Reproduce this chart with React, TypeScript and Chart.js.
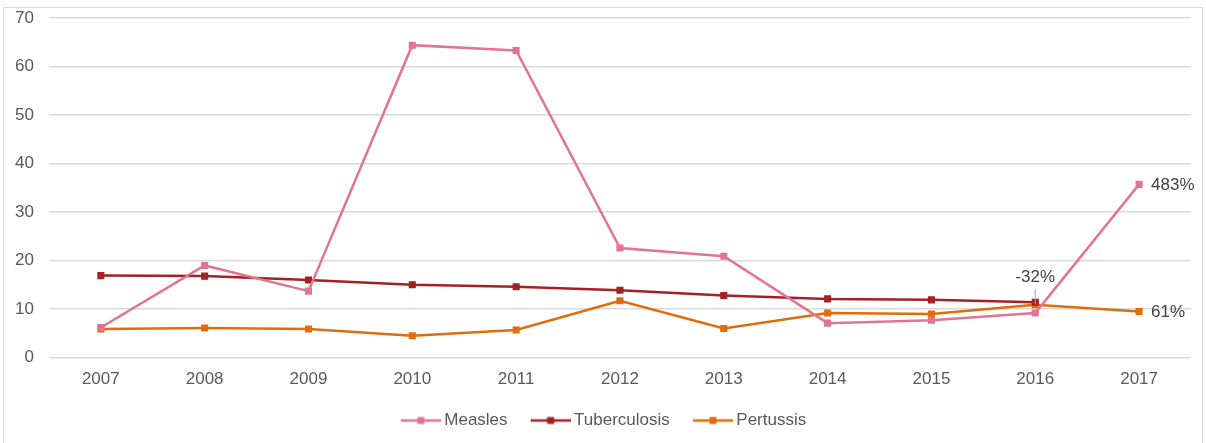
import React, { useEffect, useRef } from "react";
import { Chart, registerables } from "chart.js";

Chart.register(...registerables);

const years = ["2007", "2008", "2009", "2010", "2011", "2012", "2013", "2014", "2015", "2016", "2017"];
const measles = [6.2, 19.0, 13.7, 64.4, 63.3, 22.6, 20.9, 7.1, 7.7, 9.2, 35.7];
const tuberculosis = [16.9, 16.8, 16.0, 15.0, 14.6, 13.9, 12.8, 12.1, 11.9, 11.4, null];
const pertussis = [5.9, 6.1, 5.9, 4.5, 5.7, 11.7, 6.0, 9.2, 9.0, 10.9, 9.5];
const seriesNames = ["Measles", "Tuberculosis", "Pertussis"];
const seriesColors = ["#E17591", "#A51F25", "#E36C0A"];
const annotations = [
  { dataset: 0, index: 10, text: "483%", pos: "right" },
  { dataset: 1, index: 9, text: "-32%", pos: "above" },
  { dataset: 2, index: 10, text: "61%", pos: "right" },
];

const FONT = "'Liberation Sans', Arial, sans-serif";

function legendMarker(color: string): HTMLCanvasElement {
  const c = document.createElement("canvas");
  c.width = 46;
  c.height = 10;
  const ctx = c.getContext("2d")!;
  ctx.strokeStyle = color;
  ctx.lineWidth = 2.5;
  ctx.beginPath();
  ctx.moveTo(6, 5);
  ctx.lineTo(46, 5);
  ctx.stroke();
  ctx.fillStyle = color;
  ctx.fillRect(22.5, 1.5, 7, 7);
  return c;
}

const labelPlugin = {
  id: "pctLabels",
  afterDatasetsDraw(chart: any) {
    const ctx = chart.ctx;
    const xs = chart.scales.x;
    const ys = chart.scales.y;
    ctx.save();
    ctx.font = `17px ${FONT}`;
    ctx.fillStyle = "#404040";
    ctx.textBaseline = "middle";
    annotations.forEach((a) => {
      const v = (chart.data.datasets[a.dataset].data as any[])[a.index];
      const px = xs.getPixelForValue(a.index);
      const py = ys.getPixelForValue(v);
      if (a.pos === "right") {
        ctx.textAlign = "left";
        ctx.fillText(a.text, px + 12, py + 1);
      } else {
        ctx.strokeStyle = "#A6A6A6";
        ctx.lineWidth = 1;
        ctx.beginPath();
        ctx.moveTo(px, py - 13);
        ctx.lineTo(px, py + 2);
        ctx.stroke();
        ctx.textAlign = "center";
        ctx.fillText(a.text, px, py - 25);
      }
    });
    ctx.restore();
  },
};

export default function App() {
  const ref = useRef<HTMLCanvasElement>(null);
  useEffect(() => {
    const data = [measles, tuberculosis, pertussis];
    const chart = new Chart(ref.current!, {
      type: "line",
      data: {
        labels: years,
        datasets: seriesNames.map((name, i) => ({
          label: name,
          data: data[i],
          borderColor: seriesColors[i],
          backgroundColor: seriesColors[i],
          borderWidth: 2.5,
          pointStyle: "rect",
          pointRadius: 5,
          pointBorderWidth: 0,
          tension: 0,
          fill: false,
        })),
      },
      options: {
        responsive: false,
        animation: false,
        layout: { padding: { left: 0, right: 0, top: 18, bottom: 4 } },
        scales: {
          x: {
            offset: true,
            grid: { display: false, drawTicks: false },
            border: { display: false },
            ticks: { color: "#595959", font: { family: FONT, size: 17 }, padding: 12 },
            afterFit: (s: any) => {
              s.height -= 12;
            },
          },
          y: {
            min: 0,
            max: 70,
            grid: { color: "#D9D9D9", lineWidth: 1.5, drawTicks: false },
            border: { display: false },
            ticks: { stepSize: 10, color: "#595959", font: { family: FONT, size: 17 }, padding: 15 },
            afterFit: (s: any) => {
              s.paddingTop = 0;
            },
          },
          yRight: {
            position: "right",
            min: 0,
            max: 70,
            grid: { display: false, drawTicks: false },
            border: { display: false },
            ticks: { display: false },
            afterFit: (s: any) => {
              s.width = 15;
              s.paddingTop = 0;
            },
          },
        },
        plugins: {
          tooltip: { enabled: false },
          legend: {
            position: "bottom",
            labels: {
              usePointStyle: true,
              pointStyleWidth: 36,
              padding: 22,
              color: "#595959",
              font: { family: FONT, size: 17 },
              generateLabels: (c: any) => {
                const items = Chart.defaults.plugins.legend.labels.generateLabels(c);
                return items.map((it: any, i: number) => ({ ...it, pointStyle: legendMarker(seriesColors[i]) }));
              },
            },
          },
        },
      },
      plugins: [labelPlugin],
    } as any);
    return () => chart.destroy();
  }, []);
  return (
    <div style={{ position: "fixed", left: 0, top: 0, width: 1206, height: 443, background: "#fff" }}>
      <div
        style={{
          position: "absolute",
          left: 3,
          top: 7,
          width: 1200,
          height: 445,
          border: "1px solid #D9D9D9",
          boxSizing: "border-box",
        }}
      />
      <canvas ref={ref} width={1206} height={443} style={{ position: "absolute", left: 0, top: 0 }} />
    </div>
  );
}
